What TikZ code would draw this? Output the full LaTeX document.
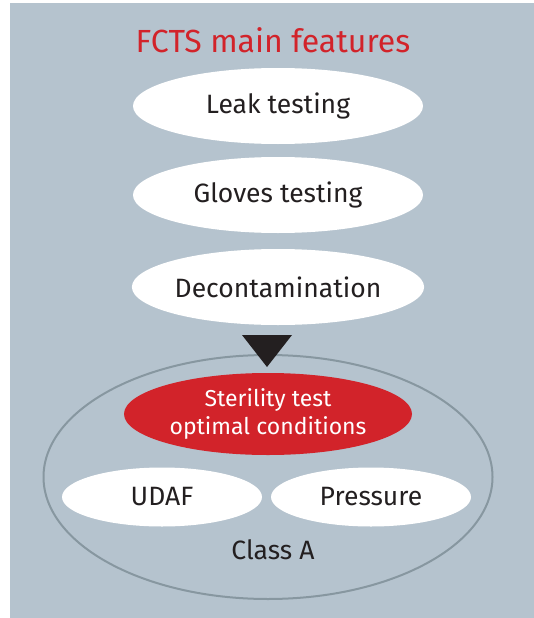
\documentclass[tikz,border=0pt]{standalone}
\usepackage{fontspec}
\setmainfont{Fira Sans}
\usetikzlibrary{shapes.geometric}
\definecolor{panelgrey}{RGB}{181,195,206}
\definecolor{fctsred}{RGB}{210,35,42}
\definecolor{ringgrey}{RGB}{135,151,160}
\definecolor{darktri}{RGB}{35,31,32}
\begin{document}
\begin{tikzpicture}[x=1pt,y=-1pt,
	feature/.style={ellipse,fill=white,inner sep=0pt,minimum width=290pt,minimum height=76pt,
		font=\fontsize{26.5}{30}\selectfont,text=darktri},
	goal/.style={ellipse,fill=fctsred,inner sep=0pt,minimum width=288pt,minimum height=82pt,
		font=\fontsize{23}{28}\selectfont,text=white,align=center},
	small/.style={ellipse,fill=white,inner sep=0pt,minimum width=200pt,minimum height=59pt,
		font=\fontsize{26.5}{30}\selectfont,text=darktri}]
	\useasboundingbox (0,0) rectangle (534,618);
	\fill[panelgrey] (10,3) rectangle (534,618);
	\node[text=fctsred,font=\fontsize{32}{36}\selectfont] (title) at (273,40) {FCTS main features};
	\node[feature] (leak) at (278,106) {Leak testing};
	\node[feature] (gloves) at (278,195) {Gloves testing};
	\node[feature] (decon) at (278,287) {Decontamination};
	\node[ellipse,draw=ringgrey,line width=2pt,inner sep=0pt,minimum width=449pt,minimum height=244pt] (classa) at (268,477) {};
	\fill[darktri] (242,335) -- (292,335) -- (267,367) -- cycle;
	\node[goal] (sterile) at (268,414) {Sterility test\\optimal conditions};
	\node[small] (udaf) at (162,497) {UDAF};
	\node[small] (press) at (371,497) {Pressure};
	\node[font=\fontsize{26.5}{30}\selectfont,text=darktri] (label) at (273,550) {Class A};
\end{tikzpicture}
\end{document}
